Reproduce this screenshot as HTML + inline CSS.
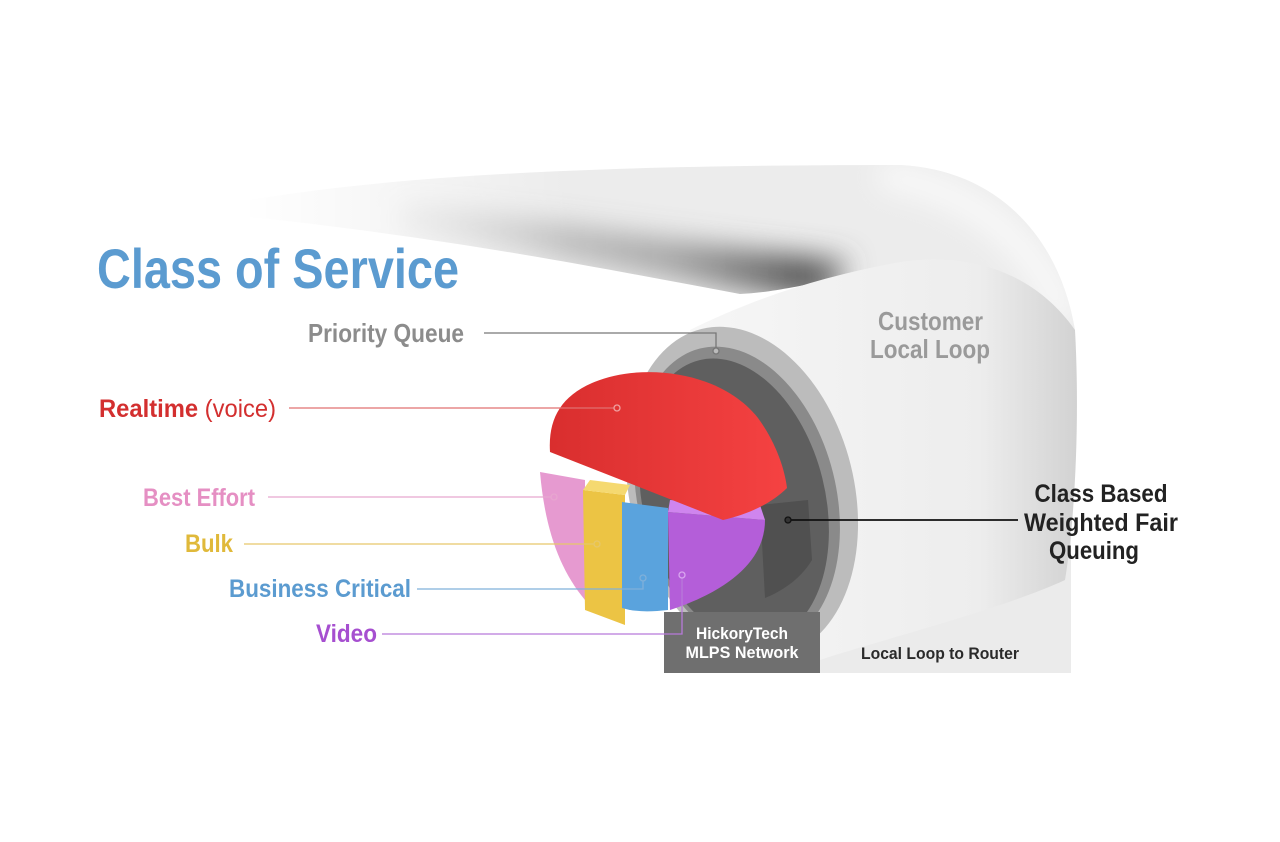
<!DOCTYPE html>
<html><head><meta charset="utf-8"><style>
html,body{margin:0;padding:0;background:#fff;width:1280px;height:842px;overflow:hidden}
svg text{font-family:"Liberation Sans",sans-serif;font-weight:bold}
</style></head><body>
<svg width="1280" height="842" viewBox="0 0 1280 842" xmlns="http://www.w3.org/2000/svg">
<defs>
<linearGradient id="fade" x1="0" y1="0" x2="1" y2="0">
<stop offset="0" stop-color="#fff" stop-opacity="1"/>
<stop offset="1" stop-color="#fff" stop-opacity="0"/>
</linearGradient>
<linearGradient id="body" x1="0" y1="0" x2="1" y2="0">
<stop offset="0" stop-color="#f6f6f6"/>
<stop offset="0.75" stop-color="#ededed"/>
<stop offset="1" stop-color="#d2d2d2"/>
</linearGradient>
<linearGradient id="red" x1="0" y1="0" x2="1" y2="0">
<stop offset="0" stop-color="#d92e2e"/><stop offset="1" stop-color="#f54242"/>
</linearGradient>
<linearGradient id="shad" x1="0" y1="0" x2="1" y2="0">
<stop offset="0" stop-color="#888" stop-opacity="0.2"/>
<stop offset="0.6" stop-color="#777" stop-opacity="0.6"/>
<stop offset="0.9" stop-color="#555" stop-opacity="1"/>
<stop offset="1" stop-color="#555" stop-opacity="0.6"/>
</linearGradient>
<filter id="blur" x="-20%" y="-50%" width="140%" height="200%"><feGaussianBlur stdDeviation="14"/></filter>
<clipPath id="armclip"><path d="M250 200 C400 175 600 165 900 165 C1000 170 1060 240 1075 330 L1000 330 L830 280 C790 288 765 293 740 294 C600 268 450 238 250 217 Z"/></clipPath>
</defs>
<rect x="820" y="520" width="251" height="153" fill="#ebebeb"/>
<g clip-path="url(#armclip)">
<rect x="240" y="160" width="850" height="180" fill="#ececec"/>
<path d="M400 230 C550 250 700 290 830 300 L850 260 C720 250 560 220 400 205 Z" fill="url(#shad)" filter="url(#blur)"/>
<path d="M880 175 C980 190 1040 250 1065 320" stroke="#fafafa" stroke-width="25" fill="none" filter="url(#blur)"/>
</g>
<rect x="240" y="160" width="330" height="110" fill="url(#fade)"/>
<path d="M690 330 C760 295 830 275 900 262 C980 250 1040 280 1075 330 C1080 420 1075 520 1065 580 C1000 610 880 640 820 660 L760 665 Z" fill="url(#body)"/>
<ellipse cx="742" cy="492" rx="112" ry="168" transform="rotate(-14 742 492)" fill="#bcbcbc"/>
<ellipse cx="737" cy="497" rx="99" ry="153" transform="rotate(-14 737 497)" fill="#8a8a8a"/>
<ellipse cx="734" cy="500" rx="91" ry="144" transform="rotate(-14 734 500)" fill="#5f5f5f"/>
<rect x="664" y="612" width="156" height="61" fill="#6f6f6f"/>
<path d="M760 505 L808 500 L812 560 C800 580 780 592 765 598 Z" fill="#505050"/>
<path d="M540 472 L585 480 L585 600 C560 570 545 530 540 472 Z" fill="#e69ad0"/>
<path d="M583 490 L625 495 L625 625 L585 610 Z" fill="#ecc444"/>
<path d="M583 490 L625 495 L630 485 L590 480 Z" fill="#f5d970"/>
<path d="M622 502 L668 508 L668 610 C650 612 635 612 622 608 Z" fill="#5aa3dd"/>
<path d="M668 512 L765 520 C765 560 730 590 670 610 Z" fill="#b45ed9"/>
<path d="M668 512 L765 520 L760 505 L670 500 Z" fill="#cf85ee"/>
<path d="M550 452 C548 420 560 397 592 383 C640 362 720 370 758 418 C774 440 784 465 787 488 C770 505 745 515 723 520 Z" fill="url(#red)"/>
<g fill="none" stroke-width="1.3">
<path d="M484 333 H716 V348" stroke="#777"/>
<circle cx="716" cy="351" r="3" stroke="#777" fill="#bbb"/>
<path d="M289 408 H614" stroke="#e07070"/><circle cx="617" cy="408" r="3" stroke="#f0a0a0"/>
<path d="M268 497 H551" stroke="#e7a6cf"/><circle cx="554" cy="497" r="3" stroke="#e7a6cf"/>
<path d="M244 544 H594" stroke="#e6c76a"/><circle cx="597" cy="544" r="3" stroke="#e6c76a"/>
<path d="M417 589 H643 V581" stroke="#7fb0da"/><circle cx="643" cy="578" r="3" stroke="#7fb0da"/>
<path d="M382 634 H682 V578" stroke="#b879d9"/><circle cx="682" cy="575" r="3" stroke="#d9a6ef"/>
<path d="M790 520 H1018" stroke="#111" stroke-width="1.8"/><circle cx="788" cy="520" r="3" stroke="#111" fill="#333"/>
</g>
<text x="97" y="288" font-size="56" fill="#5b9bd0" textLength="362" lengthAdjust="spacingAndGlyphs">Class of Service</text>
<text x="308" y="342" font-size="26" fill="#8c8c8c" textLength="156" lengthAdjust="spacingAndGlyphs">Priority Queue</text>
<text x="99" y="417" font-size="25" fill="#d32f2f" textLength="177" lengthAdjust="spacingAndGlyphs">Realtime <tspan font-weight="normal">(voice)</tspan></text>
<text x="143" y="506" font-size="25" fill="#e58fc3" textLength="112" lengthAdjust="spacingAndGlyphs">Best Effort</text>
<text x="185" y="552" font-size="25" fill="#e0b93a" textLength="48" lengthAdjust="spacingAndGlyphs">Bulk</text>
<text x="229" y="597" font-size="25" fill="#5b9bd0" textLength="182" lengthAdjust="spacingAndGlyphs">Business Critical</text>
<text x="316" y="642" font-size="25" fill="#a64fd0" textLength="61" lengthAdjust="spacingAndGlyphs">Video</text>
<text x="878" y="330" font-size="26" fill="#9a9a9a" textLength="105" lengthAdjust="spacingAndGlyphs">Customer</text>
<text x="870" y="358" font-size="26" fill="#9a9a9a" textLength="120" lengthAdjust="spacingAndGlyphs">Local Loop</text>
<g fill="#222" font-size="25" text-anchor="middle">
<text x="1101" y="502" textLength="133" lengthAdjust="spacingAndGlyphs">Class Based</text>
<text x="1101" y="531" textLength="154" lengthAdjust="spacingAndGlyphs">Weighted Fair</text>
<text x="1094" y="559" textLength="90" lengthAdjust="spacingAndGlyphs">Queuing</text>
</g>
<text x="742" y="639" font-size="17" fill="#fff" text-anchor="middle" textLength="92" lengthAdjust="spacingAndGlyphs">HickoryTech</text>
<text x="742" y="658" font-size="17" fill="#fff" text-anchor="middle" textLength="113" lengthAdjust="spacingAndGlyphs">MLPS Network</text>
<text x="861" y="659" font-size="17" fill="#2a2a2a" textLength="158" lengthAdjust="spacingAndGlyphs">Local Loop to Router</text>
</svg>
</body></html>
